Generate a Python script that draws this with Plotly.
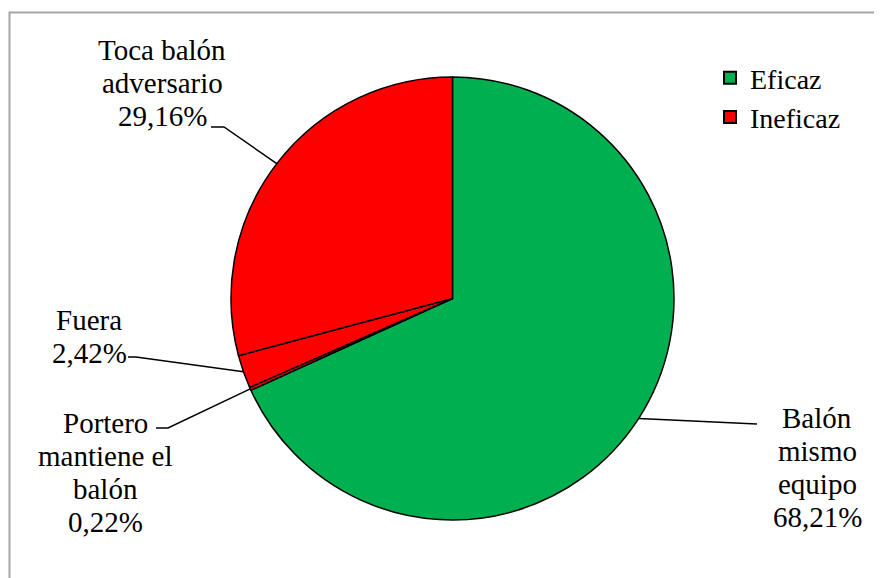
import math
import plotly.graph_objects as go

# ---- data ----
categories = ["Balón mismo equipo", "Portero mantiene el balón", "Fuera", "Toca balón adversario"]
values = [68.21, 0.22, 2.42, 29.16]
label_lines = [
    ["Balón", "mismo", "equipo", "68,21%"],
    ["Portero", "mantiene el", "balón", "0,22%"],
    ["Fuera", "2,42%"],
    ["Toca balón", "adversario", "29,16%"],
]
slice_colors = ["#00B050", "#FF0000", "#FF0000", "#FF0000"]
legend_names = ["Eficaz", "Ineficaz"]
legend_colors = ["#00B050", "#FF0000"]

# ---- layout constants (pixels, page coordinates) ----
W, H = 882, 578
OFF = 8  # page body margin
CX, CY, R = 452.5, 298.5, 221.5
FONT = "Liberation Serif"
FS = 29
LINE_H = 33

def px(x):
    return (x - OFF) / W

def py(y):
    return 1 - (y - OFF) / H

label_pos = [
    (817, 418),
    (105, 423),
    (89, 320),
    (162, 50),
]
leader_pts = [
    ((757, 424), (757, 424)),
    ((156, 428), (168, 428)),
    ((128, 357), (136, 357)),
    ((211, 127), (224, 127)),
]

fig = go.Figure()
fig.add_trace(go.Pie(
    labels=categories,
    values=values,
    sort=False,
    direction="clockwise",
    rotation=0,
    marker=dict(colors=slice_colors, line=dict(color="black", width=1.5)),
    textinfo="none",
    hoverinfo="label+percent",
    showlegend=False,
    domain=dict(x=[px(CX - R), px(CX + R)], y=[py(CY + R), py(CY - R)]),
))

for name, col in zip(legend_names, legend_colors):
    fig.add_trace(go.Scatter(
        x=[None], y=[None], mode="markers", name=name,
        marker=dict(symbol="square", size=16, color=col, line=dict(color="black", width=3.5)),
    ))

shapes = []
annotations = []
total = sum(values)
cum = 0.0
for i, v in enumerate(values):
    mid = (cum + v / 2) / total
    cum += v
    ang = 2 * math.pi * mid
    ex = CX + R * math.sin(ang)
    ey = CY - R * math.cos(ang)
    (tx, ty), (bx, by) = leader_pts[i]
    path = f"M {px(tx)},{py(ty)} L {px(bx)},{py(by)} L {px(ex)},{py(ey)}"
    shapes.append(dict(type="path", xref="paper", yref="paper", path=path,
                       line=dict(color="black", width=1.5)))
    lx, ly = label_pos[i]
    for k, t in enumerate(label_lines[i]):
        annotations.append(dict(
            x=px(lx), y=py(ly + k * LINE_H), xref="paper", yref="paper",
            text=t, showarrow=False, xanchor="center", yanchor="middle",
            font=dict(family=FONT, size=FS, color="black"),
        ))

# outer frame
shapes.append(dict(type="rect", xref="paper", yref="paper",
                   x0=px(9.5), x1=px(W + 20), y0=py(H + 20), y1=py(12.5),
                   line=dict(color="#A6A6A6", width=2), fillcolor="rgba(0,0,0,0)"))

fig.update_layout(
    width=W, height=H,
    margin=dict(l=0, r=0, t=0, b=0),
    paper_bgcolor="white", plot_bgcolor="white",
    xaxis=dict(visible=False), yaxis=dict(visible=False),
    shapes=shapes,
    annotations=annotations,
    showlegend=True,
    legend=dict(x=px(710), y=py(53), xanchor="left", yanchor="top",
                font=dict(family=FONT, size=28, color="black"),
                bgcolor="rgba(0,0,0,0)", tracegroupgap=0, itemsizing="constant"),
    font=dict(family=FONT),
)

fig.write_html("out.html")
